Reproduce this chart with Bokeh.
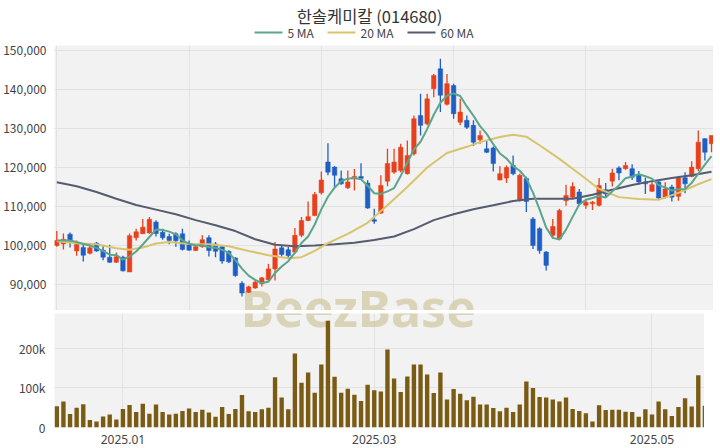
import pandas as pd
from bokeh.plotting import figure
from bokeh.layouts import column
from bokeh.models import ColumnDataSource, FixedTicker, NumeralTickFormatter, Range1d
from bokeh.core.properties import value
from bokeh.embed import file_html
from bokeh.resources import INLINE

# ---------------- data ----------------
chart_title = "한솔케미칼 (014680)"
watermark = "BeezBase"

opens = [100000, 100400, 102900, 98600, 99500, 98000, 100600, 98800, 97000, 95700,
         97000, 93200, 102000, 103000, 103200, 106000, 103400, 102300, 103000, 103000,
         100400, 98700, 99700, 102000, 100400, 99700, 98500, 96800, 90300, 88000,
         89100, 90200, 91200, 94000, 99400, 98900, 98300, 102600, 106400, 107700,
         113500, 121400, 120100, 117100, 114800, 117100, 117700, 116000, 106600, 108300,
         116500, 118800, 119200, 118400, 123500, 133300, 131200, 140200, 145300, 136200,
         141000, 131600, 132100, 130800, 127100, 124800, 125000, 116800, 117300, 120500,
         111700, 117200, 106800, 104300, 98300, 102600, 101700, 111500, 112400, 113700,
         110300, 110700, 110300, 114300, 116500, 119900, 119700, 119700, 118000, 116300,
         113900, 116300, 112400, 115000, 112600, 117400, 117700, 119700, 127400, 126100]
highs = [103700, 103100, 103300, 101300, 100300, 100100, 100900, 100000, 100200, 98200,
         97400, 103100, 104300, 106800, 107300, 106500, 104300, 103000, 103400, 104300,
         101300, 100300, 102600, 102600, 100900, 100000, 98800, 97000, 90800, 89700,
         91200, 91900, 95300, 100900, 100000, 99600, 104500, 107300, 111300, 113700,
         119000, 126200, 120300, 119200, 119200, 119600, 121100, 116700, 109400, 118000,
         124800, 124800, 126100, 126900, 133300, 138900, 138900, 144000, 147900, 144000,
         141500, 137600, 133300, 132100, 129500, 126900, 125400, 120300, 120500, 123100,
         118400, 117600, 107300, 104700, 98600, 106800, 109400, 115600, 116200, 114500,
         111700, 111400, 117300, 116000, 119700, 120300, 121400, 120800, 119100, 117400,
         116200, 116500, 116200, 115600, 117600, 118800, 121600, 129500, 127500, 128200]
lows = [99700, 99000, 99500, 97400, 95900, 97700, 98400, 96200, 95500, 95500,
        93300, 93200, 101300, 103000, 103000, 102300, 101500, 100300, 99700, 98700,
        98700, 98600, 99400, 97200, 97000, 95300, 95500, 92000, 86900, 87800,
        88900, 89500, 90900, 91000, 97200, 96800, 97900, 102100, 106200, 107500,
        113100, 118000, 115000, 115600, 114500, 114100, 117100, 109400, 105600, 108100,
        115200, 118400, 118800, 118200, 123100, 128200, 130800, 138000, 134200, 135900,
        132500, 130800, 129900, 125500, 126100, 123700, 119000, 116700, 116000, 118000,
        111300, 108600, 99100, 97900, 93600, 101700, 101500, 110200, 112200, 110300,
        109400, 109100, 110000, 112400, 115100, 116700, 119400, 116800, 115600, 113200,
        113700, 112000, 112000, 111300, 111500, 113400, 117500, 119100, 121800, 123900]
closes = [101300, 101600, 101200, 100300, 97500, 99400, 98600, 97000, 95700, 97100,
          93500, 102500, 103500, 104700, 106700, 103100, 102000, 101300, 101200, 99000,
          98800, 99700, 101500, 98700, 98500, 96000, 95800, 92300, 87800, 89400,
          90600, 91700, 94000, 99100, 97700, 97400, 102600, 106400, 107400, 113100,
          116800, 118800, 118000, 115800, 116300, 117700, 117200, 109600, 106200, 115400,
          121000, 121400, 125200, 123100, 132500, 130800, 137600, 143600, 138500, 141500,
          133800, 134200, 130300, 126500, 128200, 123900, 121000, 118400, 120000, 118400,
          118000, 111300, 100000, 98700, 94900, 104900, 109000, 112800, 115100, 110700,
          111100, 111100, 115400, 113200, 118600, 118600, 120500, 117500, 116300, 115800,
          115600, 112200, 114500, 112400, 117400, 115800, 120100, 126500, 123900, 128200]
volumes = [54000, 66000, 34000, 50000, 59000, 19000, 15000, 28000, 33000, 20000,
           47000, 57000, 39000, 60000, 35000, 58000, 39000, 33000, 35000, 42000,
           48000, 39000, 45000, 38000, 27000, 52000, 34000, 47000, 82000, 41000,
           39000, 46000, 50000, 127000, 76000, 46000, 187000, 113000, 139000, 88000,
           159000, 270000, 128000, 88000, 98000, 83000, 67000, 108000, 94000, 91000,
           197000, 124000, 90000, 129000, 159000, 159000, 134000, 87000, 139000, 71000,
           97000, 85000, 69000, 78000, 58000, 58000, 49000, 41000, 50000, 39000,
           58000, 116000, 100000, 77000, 76000, 71000, 66000, 76000, 47000, 42000,
           36000, 15000, 56000, 44000, 45000, 45000, 40000, 39000, 27000, 46000,
           33000, 66000, 46000, 29000, 52000, 74000, 53000, 132000, 55000, 70000]

# 5 MA: first four values (earlier sessions not shown)
ma5_head = [101300, 101300, 101300, 100900]
# 20 MA / 60 MA at these candle positions
ma20_idx = [0, 3, 6, 9, 11, 13, 15, 17, 20, 23, 26, 29, 32, 35, 37, 39, 41, 44, 47,
            50, 53, 56, 59, 62, 64, 67, 69, 71, 73, 76, 79, 82, 85, 88, 91, 94, 97, 99]
ma20_val = [101100, 100600, 100300, 99300, 98900, 99500, 100500, 100900, 100400, 100300,
            99800, 98600, 97500, 96700, 97000, 98600, 100600, 103000, 105800, 110300,
            115000, 120000, 123700, 125300, 126500, 127800, 128400, 127900, 125700, 122200,
            118400, 114500, 112400, 111900, 111700, 113500, 115700, 117000]
ma60_idx = [0, 3, 6, 9, 12, 15, 18, 21, 24, 27, 30, 33, 36, 39, 42, 45, 48, 51, 54,
            57, 60, 63, 66, 69, 72, 75, 78, 81, 84, 87, 90, 93, 96, 99]
ma60_val = [116200, 115200, 113700, 112000, 110400, 109200, 108000, 106500, 105200, 103700,
            101600, 100200, 99800, 100000, 100300, 100700, 101400, 102300, 104200, 106500,
            108000, 109300, 110300, 111400, 112000, 112000, 112000, 113000, 114300, 115500,
            116500, 117300, 118000, 118900]

price_ticks = [90000, 100000, 110000, 120000, 130000, 140000, 150000]
vol_ticks = [0, 100000, 200000]
vol_tick_labels = ["0", "100k", "200k"]
date_tick_idx = [10, 48, 90]
date_tick_labels = ["2025.01", "2025.03", "2025.05"]
legend_labels = ["5 MA", "20 MA", "60 MA"]

# ---------------- styling ----------------
FONT = "Noto Sans CJK KR"
RED = "#e8401c"
BLUE = "#1f5ec4"
C5 = "#5aa58c"
C20 = "#d8c46c"
C60 = "#565c70"
VOLC = "#7a5b14"
BG = "#f2f2f2"
GRID = "#e2e2e2"
LBL = "#444444"

n = len(closes)
xs = list(range(n))
ma5 = pd.Series(closes).rolling(5).mean().tolist()
ma5[:4] = ma5_head

up = [c >= o for o, c in zip(opens, closes)]
src = ColumnDataSource(dict(
    x=xs, h=highs, l=lows,
    top=[max(o, c) for o, c in zip(opens, closes)],
    bot=[min(o, c) for o, c in zip(opens, closes)],
    col=[RED if u else BLUE for u in up],
    vol=volumes,
))

LB = 45           # left border (y-axis labels)
HEAD_H = 41
MAIN_TOP = 4
X0, X1 = -0.35, 99.3
Y0, Y1 = 83330, 151280
FW, FH = 659, 265
VH = 114
VMAX = 288000

# ---------------- header: title + legend (frame aligned with the panels) ----------------
PX0 = 8 + LB
hdr = figure(frame_width=FW, frame_height=HEAD_H, x_range=Range1d(PX0, PX0 + FW),
             y_range=Range1d(HEAD_H, 0),
             x_axis_location=None, y_axis_location=None, output_backend="svg",
             toolbar_location=None, min_border_left=LB, min_border_right=0,
             min_border_top=0, min_border_bottom=0, outline_line_color=None,
             background_fill_color="white", border_fill_color="white")
hdr.grid.visible = False
hdr.text(x=[368], y=[15], text=[chart_title], text_font=value(FONT),
         text_font_size="16.5px", text_color="#333333", text_align="center",
         text_baseline="middle")
leg_cols = [C5, C20, C60]
leg_x = [253, 326, 406]
leg_len = 28
hdr.segment(x0=leg_x, y0=[32] * 3, x1=[x + leg_len for x in leg_x], y1=[32] * 3,
            line_color=leg_cols, line_width=2)
hdr.text(x=[x + leg_len + 5 for x in leg_x], y=[32] * 3, text=legend_labels,
         text_font=value(FONT), text_font_size="12px", text_color=LBL,
         text_align="left", text_baseline="middle")

# ---------------- main candlestick panel ----------------
p = figure(frame_width=FW, frame_height=FH, x_range=Range1d(X0, X1), y_range=Range1d(Y0, Y1),
           output_backend="svg", toolbar_location=None,
           min_border_left=LB, min_border_right=0, min_border_bottom=0,
           min_border_top=MAIN_TOP,
           background_fill_color=BG, border_fill_color="white", outline_line_color=None)
p.xaxis.visible = False
p.xgrid.ticker = FixedTicker(ticks=[0, 20, 40, 60, 80])
p.xgrid.grid_line_color = GRID
p.ygrid.grid_line_color = GRID
p.yaxis.ticker = FixedTicker(ticks=price_ticks)
p.yaxis.formatter = NumeralTickFormatter(format="0,0")
p.yaxis.axis_line_color = None
p.yaxis.major_tick_line_color = None
p.yaxis.minor_tick_line_color = None
p.yaxis.major_label_standoff = 2
p.yaxis.major_label_text_font = FONT
p.yaxis.major_label_text_font_size = "12px"
p.yaxis.major_label_text_color = LBL

# watermark (split across both panels, aligned on the same baseline)
WM_X = 45.6
WM_BASE = 262  # nominal baseline offset below the main frame top
wm_style = dict(text_font=value("Noto Sans"), text_font_style="bold", text_font_size="50px",
                text_align="center", text_baseline="alphabetic", text_color="#cfc6a0",
                text_alpha=0.7)
main_anchor_py = (Y1 - 90000) / (Y1 - Y0) * FH
p.text(x=[WM_X], y=[90000], text=[watermark], y_offset=WM_BASE - main_anchor_py, **wm_style)

p.segment(x0="x", y0="l", x1="x", y1="h", line_color="col", line_width=1.3, source=src)
p.vbar(x="x", width=0.68, top="top", bottom="bot", fill_color="col", line_color="col",
       line_width=0.5, source=src)

p.line(ma60_idx, ma60_val, line_color=C60, line_width=2)
p.line(ma20_idx, ma20_val, line_color=C20, line_width=2)
p.line(xs, ma5, line_color=C5, line_width=2)

# ---------------- volume panel ----------------
v = figure(frame_width=FW, frame_height=VH, x_range=p.x_range, y_range=Range1d(0, VMAX),
           output_backend="svg", toolbar_location=None,
           min_border_left=LB, min_border_right=0, min_border_bottom=0, min_border_top=3,
           background_fill_color=BG, border_fill_color="white", outline_line_color=None)
vol_anchor_py = FH + 3 + (VMAX - 100000) / VMAX * VH  # from main frame top
v.text(x=[WM_X], y=[100000], text=[watermark], y_offset=WM_BASE - vol_anchor_py, **wm_style)
v.vbar(x="x", width=0.66, top="vol", bottom=0, fill_color=VOLC, line_color=None, source=src)

v.xaxis.ticker = FixedTicker(ticks=date_tick_idx)
v.xaxis.major_label_overrides = {i: s for i, s in zip(date_tick_idx, date_tick_labels)}
v.yaxis.ticker = FixedTicker(ticks=vol_ticks)
v.yaxis.major_label_overrides = {t: s for t, s in zip(vol_ticks, vol_tick_labels)}
for ax in (v.xaxis, v.yaxis):
    ax.axis_line_color = None
    ax.major_tick_line_color = None
    ax.minor_tick_line_color = None
    ax.major_label_text_font = FONT
    ax.major_label_text_font_size = "12px"
    ax.major_label_text_color = LBL
v.xaxis.major_label_text_font = "Noto Sans"
v.xaxis.major_label_standoff = 1
v.yaxis.major_label_standoff = 3
v.xgrid.grid_line_color = GRID
v.ygrid.grid_line_color = GRID

layout = column(hdr, p, v, spacing=0)
open("out.html", "w").write(file_html(layout, INLINE))
